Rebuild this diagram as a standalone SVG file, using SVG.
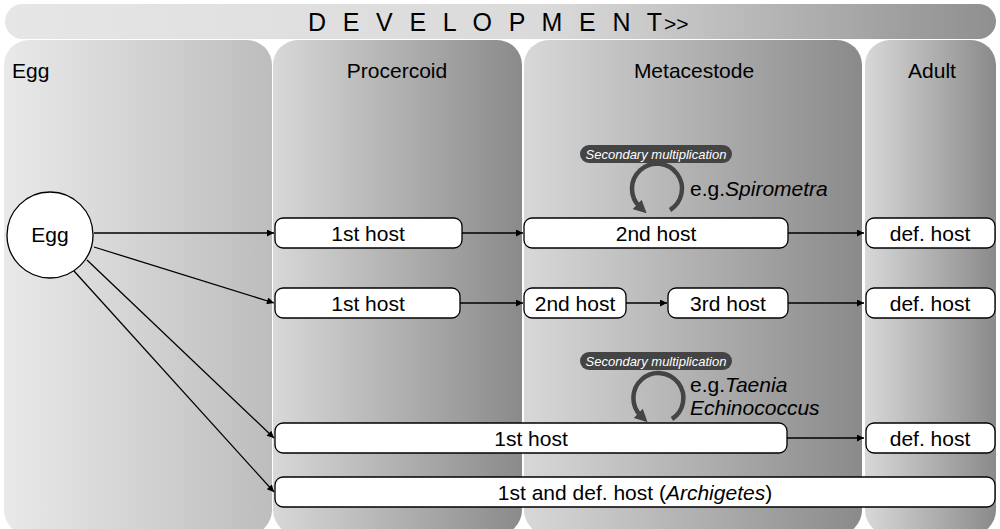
<svg xmlns="http://www.w3.org/2000/svg" width="1000" height="529" viewBox="0 0 1000 529">
  <defs>
    <linearGradient id="gHead" x1="0" y1="0" x2="1" y2="0">
      <stop offset="0" stop-color="#e6e6e6"/>
      <stop offset="0.55" stop-color="#dadada"/>
      <stop offset="1" stop-color="#8f8f8f"/>
    </linearGradient>
    <linearGradient id="gEgg" x1="0" y1="0" x2="1" y2="0">
      <stop offset="0" stop-color="#e9e9e9"/>
      <stop offset="1" stop-color="#bdbdbd"/>
    </linearGradient>
    <linearGradient id="gStage" x1="0" y1="0" x2="1" y2="0">
      <stop offset="0" stop-color="#d8d8d8"/>
      <stop offset="1" stop-color="#8a8a8a"/>
    </linearGradient>
    <marker id="arr" viewBox="0 0 10 10" refX="10" refY="5" markerWidth="11" markerHeight="7" markerUnits="userSpaceOnUse" orient="auto">
      <path d="M0,0 L10,5 L0,10 z" fill="#000"/>
    </marker>
    <marker id="spin" viewBox="0 0 10 10" refX="3" refY="5" markerWidth="13" markerHeight="13" markerUnits="userSpaceOnUse" orient="auto">
      <path d="M0,0 L10,5 L0,10 z" fill="#444"/>
    </marker>
  </defs>
  <style>
    text { font-family: "Liberation Sans", Arial, sans-serif; fill: #000; }
    .lbl { font-size: 21px; }
    .box { fill: #fff; stroke: #000; stroke-width: 1.3; }
    .conn { fill: none; stroke: #000; stroke-width: 1.3; marker-end: url(#arr); }
    .loop { fill: none; stroke: #444; stroke-width: 4.5; marker-end: url(#spin); }
    .pill { fill: #444; }
    .pilltxt { font-size: 13px; font-style: italic; fill: #fff; }
    .ital { font-style: italic; }
  </style>

  <!-- stage columns -->
  <g id="stages">
    <rect x="4" y="40" width="268" height="495" rx="25" fill="url(#gEgg)"/>
    <rect x="273" y="40" width="249" height="495" rx="25" fill="url(#gStage)"/>
    <rect x="524" y="40" width="338" height="495" rx="25" fill="url(#gStage)"/>
    <rect x="865" y="40" width="131" height="495" rx="25" fill="url(#gStage)"/>
    <text class="lbl" x="12" y="78">Egg</text>
    <text class="lbl" x="397" y="78" text-anchor="middle">Procercoid</text>
    <text class="lbl" x="694" y="78" text-anchor="middle">Metacestode</text>
    <text class="lbl" x="932" y="78" text-anchor="middle">Adult</text>
  </g>

  <!-- development banner -->
  <g id="banner">
    <rect x="5" y="4" width="991" height="35" rx="17.5" fill="url(#gHead)"/>
    <text x="308" y="31" font-size="25" textLength="354" lengthAdjust="spacing">D E V E L O P M E N T</text>
    <text x="664" y="31" font-size="21">&gt;&gt;</text>
  </g>

  <!-- connectors -->
  <g id="connectors">
    <line class="conn" x1="94" y1="233" x2="274" y2="233"/>
    <line class="conn" x1="94" y1="247" x2="274" y2="303"/>
    <line class="conn" x1="87" y1="260" x2="274" y2="438"/>
    <line class="conn" x1="74" y1="271" x2="274" y2="492"/>
    <line class="conn" x1="462" y1="233" x2="523" y2="233"/>
    <line class="conn" x1="788" y1="233" x2="864" y2="233"/>
    <line class="conn" x1="460" y1="303" x2="523" y2="303"/>
    <line class="conn" x1="626" y1="303" x2="667" y2="303"/>
    <line class="conn" x1="788" y1="303" x2="864" y2="303"/>
    <line class="conn" x1="787" y1="438" x2="864" y2="438"/>
  </g>

  <!-- egg -->
  <g id="egg">
    <circle cx="50" cy="235" r="43" fill="#fff" stroke="#000" stroke-width="1.3"/>
    <text class="lbl" x="50" y="242" text-anchor="middle">Egg</text>
  </g>

  <!-- route 1: two hosts -->
  <g id="r1-host1">
    <rect class="box" x="275" y="218" width="187" height="30" rx="8"/>
    <text class="lbl" x="368" y="240.5" text-anchor="middle">1st host</text>
  </g>
  <g id="r1-host2">
    <rect class="box" x="524" y="218" width="264" height="30" rx="8"/>
    <text class="lbl" x="656" y="240.5" text-anchor="middle">2nd host</text>
  </g>
  <g id="r1-def">
    <rect class="box" x="866" y="218" width="129" height="30" rx="8"/>
    <text class="lbl" x="930" y="240.5" text-anchor="middle">def. host</text>
  </g>
  <g id="r1-multiplication">
    <rect class="pill" x="580" y="145" width="152" height="18" rx="9"/>
    <text class="pilltxt" x="656" y="158.5" text-anchor="middle">Secondary multiplication</text>
    <path class="loop" d="M670,210 A25 25 0 1 0 640,207"/>
    <text class="lbl" x="690" y="196">e.g.<tspan class="ital">Spirometra</tspan></text>
  </g>

  <!-- route 2: three hosts -->
  <g id="r2-host1">
    <rect class="box" x="275" y="288" width="185" height="30" rx="8"/>
    <text class="lbl" x="368" y="310.5" text-anchor="middle">1st host</text>
  </g>
  <g id="r2-host2">
    <rect class="box" x="524" y="288" width="102" height="30" rx="8"/>
    <text class="lbl" x="575" y="310.5" text-anchor="middle">2nd host</text>
  </g>
  <g id="r2-host3">
    <rect class="box" x="668" y="288" width="120" height="30" rx="8"/>
    <text class="lbl" x="728" y="310.5" text-anchor="middle">3rd host</text>
  </g>
  <g id="r2-def">
    <rect class="box" x="866" y="288" width="129" height="30" rx="8"/>
    <text class="lbl" x="930" y="310.5" text-anchor="middle">def. host</text>
  </g>

  <!-- route 3: one intermediate host -->
  <g id="r3-multiplication">
    <rect class="pill" x="580" y="352" width="152" height="18" rx="9"/>
    <text class="pilltxt" x="656" y="365.5" text-anchor="middle">Secondary multiplication</text>
    <path class="loop" d="M672,419 A25 25 0 1 0 641,416"/>
    <text class="lbl" x="690" y="392">e.g.<tspan class="ital">Taenia</tspan></text>
    <text class="lbl ital" x="690" y="415">Echinococcus</text>
  </g>
  <g id="r3-host1">
    <rect class="box" x="275" y="423" width="512" height="30" rx="8"/>
    <text class="lbl" x="531" y="445.5" text-anchor="middle">1st host</text>
  </g>
  <g id="r3-def">
    <rect class="box" x="866" y="423" width="129" height="30" rx="8"/>
    <text class="lbl" x="930" y="445.5" text-anchor="middle">def. host</text>
  </g>

  <!-- route 4: single host -->
  <g id="r4-host">
    <rect class="box" x="275" y="477" width="720" height="30" rx="8"/>
    <text class="lbl" x="635" y="499.5" text-anchor="middle">1st and def. host (<tspan class="ital">Archigetes</tspan>)</text>
  </g>
</svg>
